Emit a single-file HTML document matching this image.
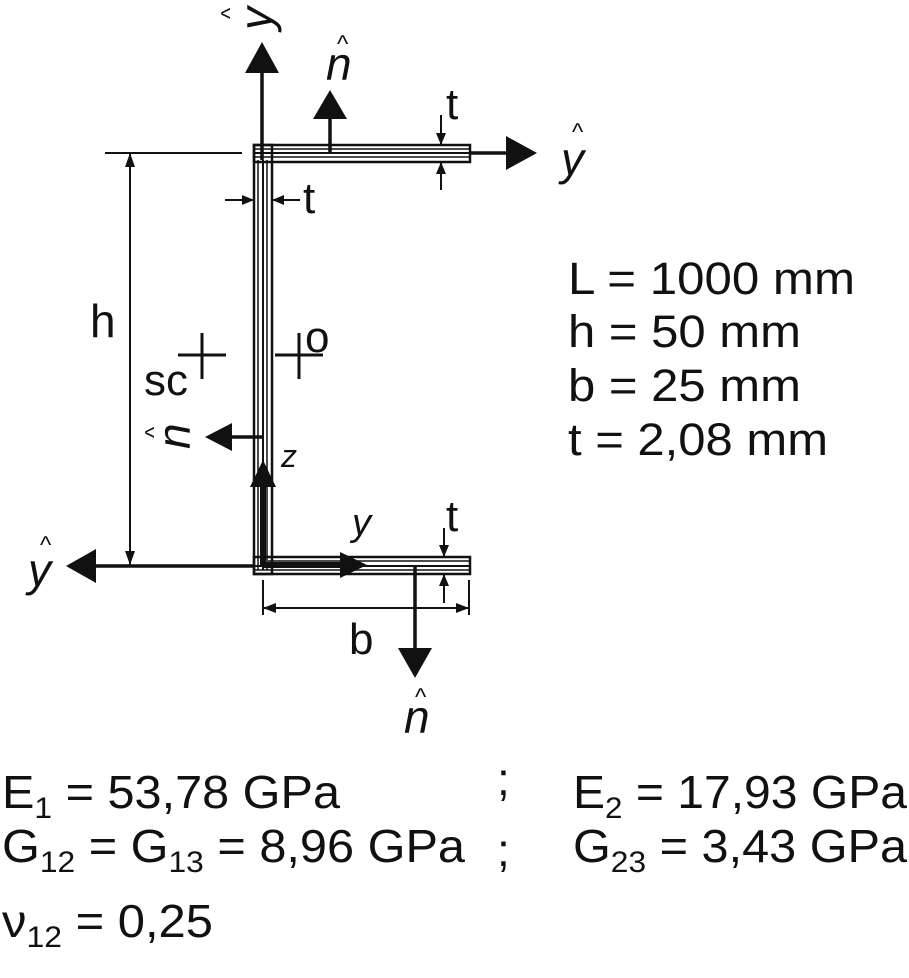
<!DOCTYPE html>
<html><head><meta charset="utf-8"><style>
html,body{margin:0;padding:0;background:#fff;}
svg{display:block;}
text{font-family:"Liberation Sans",sans-serif;fill:#111;}
</style></head><body>
<svg width="909" height="978" viewBox="0 0 909 978" xmlns="http://www.w3.org/2000/svg">
<g stroke="#111" fill="none">
<rect x="254" y="145" width="216" height="17" stroke-width="2.5"/>
<line x1="254" y1="149" x2="470" y2="149" stroke-width="1.5"/>
<line x1="254" y1="153" x2="470" y2="153" stroke-width="2"/>
<line x1="254" y1="157" x2="470" y2="157" stroke-width="1.5"/>
<rect x="254" y="145" width="18" height="429" stroke-width="2.5"/>
<line x1="258" y1="160" x2="258" y2="570" stroke-width="1.5"/>
<line x1="263" y1="160" x2="263" y2="570" stroke-width="2"/>
<line x1="267" y1="160" x2="267" y2="570" stroke-width="1.5"/>
<rect x="254" y="557" width="216" height="17" stroke-width="2.5"/>
<line x1="268" y1="561" x2="470" y2="561" stroke-width="1.5"/>
<line x1="254" y1="566" x2="470" y2="566" stroke-width="2"/>
<line x1="254" y1="570" x2="470" y2="570" stroke-width="1.5"/>
</g>
<g stroke="#111" stroke-width="3.5" fill="none">
<line x1="262" y1="160" x2="262" y2="70"/>
<line x1="330" y1="152" x2="330" y2="115"/>
<line x1="470" y1="153" x2="510" y2="153"/>
<line x1="262" y1="437" x2="228" y2="437"/>
<line x1="254" y1="566" x2="92" y2="566"/>
<line x1="415" y1="566" x2="415" y2="650"/>
<line x1="263" y1="565" x2="263" y2="485" stroke-width="6"/>
<line x1="263" y1="565" x2="340" y2="565" stroke-width="6"/>
</g>
<g fill="#111">
<polygon points="262,42 245,73 279,73"/>
<polygon points="330,90 313,119 347,119"/>
<polygon points="537,153 506,136 506,170"/>
<polygon points="205,437 232,423 232,451"/>
<polygon points="263,460 250,487 276,487"/>
<polygon points="66,566 96,549 96,583"/>
<polygon points="367,565 340,552 340,578"/>
<polygon points="415,678 398,648 432,648"/>
</g>
<g stroke="#111" stroke-width="2" fill="#111">
<line x1="105" y1="153" x2="242" y2="153"/>
<line x1="130" y1="153" x2="130" y2="565"/>
<polygon points="130,153 125,167 135,167" stroke="none"/>
<polygon points="130,565 125,551 135,551" stroke="none"/>
<line x1="441" y1="115" x2="441" y2="144"/>
<polygon points="441,145 436,133 446,133" stroke="none"/>
<line x1="441" y1="163" x2="441" y2="190"/>
<polygon points="441,162 436,174 446,174" stroke="none"/>
<line x1="225" y1="200" x2="253" y2="200"/>
<polygon points="254,200 242,195 242,205" stroke="none"/>
<line x1="273" y1="200" x2="300" y2="200"/>
<polygon points="272,200 284,195 284,205" stroke="none"/>
<line x1="444" y1="528" x2="444" y2="556"/>
<polygon points="444,557 439,545 449,545" stroke="none"/>
<line x1="444" y1="575" x2="444" y2="603"/>
<polygon points="444,574 439,586 449,586" stroke="none"/>
<line x1="263" y1="580" x2="263" y2="615"/>
<line x1="469" y1="580" x2="469" y2="615"/>
<line x1="263" y1="608" x2="469" y2="608"/>
<polygon points="263,608 276,603 276,613" stroke="none"/>
<polygon points="469,608 456,603 456,613" stroke="none"/>
<g stroke-width="3">
<line x1="178" y1="355" x2="226" y2="355"/>
<line x1="202" y1="333" x2="202" y2="379"/>
<line x1="275" y1="355" x2="323" y2="355"/>
<line x1="299" y1="333" x2="299" y2="379"/>
</g>
</g>
<g font-size="46">
<text x="90" y="337">h</text>
<text x="144" y="395" font-size="44">sc</text>
<text x="305" y="352" font-size="44">o</text>
<text x="446" y="119" font-size="44">t</text>
<text x="303" y="213" font-size="44">t</text>
<text x="446" y="531" font-size="44">t</text>
<text x="349" y="654" font-size="44">b</text>
<text x="281" y="467" font-size="32" font-style="italic">z</text>
<text x="352" y="535" font-size="38" font-style="italic">y</text>
<text x="561" y="175" font-style="italic">y</text><text x="572" y="140" font-size="24">^</text>
<text x="28" y="586" font-style="italic">y</text><text x="40" y="553" font-size="24">^</text>
<text x="326" y="80" font-style="italic">n</text><text x="337" y="52" font-size="24">^</text>
<text x="404" y="733" font-style="italic">n</text><text x="415" y="705" font-size="24">^</text>
<g transform="translate(272,25) rotate(-90)"><text x="-5" y="0" font-style="italic">y</text><text x="6" y="-34" font-size="24">^</text></g>
<g transform="translate(190,437) rotate(-90)"><text x="-12" y="0" font-style="italic">n</text><text x="-1" y="-28" font-size="24">^</text></g>
</g>
<g font-size="45">
<text x="568" y="294" textLength="287" lengthAdjust="spacingAndGlyphs">L = 1000 mm</text>
<text x="568" y="347" textLength="233" lengthAdjust="spacingAndGlyphs">h = 50 mm</text>
<text x="568" y="401" textLength="233" lengthAdjust="spacingAndGlyphs">b = 25 mm</text>
<text x="568" y="455" textLength="260" lengthAdjust="spacingAndGlyphs">t = 2,08 mm</text>
</g>
<g font-size="46">
<text x="2" y="808" textLength="338" lengthAdjust="spacingAndGlyphs">E<tspan font-size="30" dy="10">1</tspan><tspan dy="-10"> = 53,78 GPa</tspan></text>
<text x="497" y="795" font-size="46">;</text>
<text x="573" y="808" textLength="334" lengthAdjust="spacingAndGlyphs">E<tspan font-size="30" dy="10">2</tspan><tspan dy="-10"> = 17,93 GPa</tspan></text>
<text x="2" y="862" textLength="463" lengthAdjust="spacingAndGlyphs">G<tspan font-size="30" dy="10">12</tspan><tspan dy="-10"> = G</tspan><tspan font-size="30" dy="10">13</tspan><tspan dy="-10"> = 8,96 GPa</tspan></text>
<text x="497" y="866" font-size="46">;</text>
<text x="573" y="862" textLength="334" lengthAdjust="spacingAndGlyphs">G<tspan font-size="30" dy="10">23</tspan><tspan dy="-10"> = 3,43 GPa</tspan></text>
<text x="2" y="937" textLength="211" lengthAdjust="spacingAndGlyphs">ν<tspan font-size="30" dy="10">12</tspan><tspan dy="-10"> = 0,25</tspan></text>
</g>
</svg>
</body></html>
